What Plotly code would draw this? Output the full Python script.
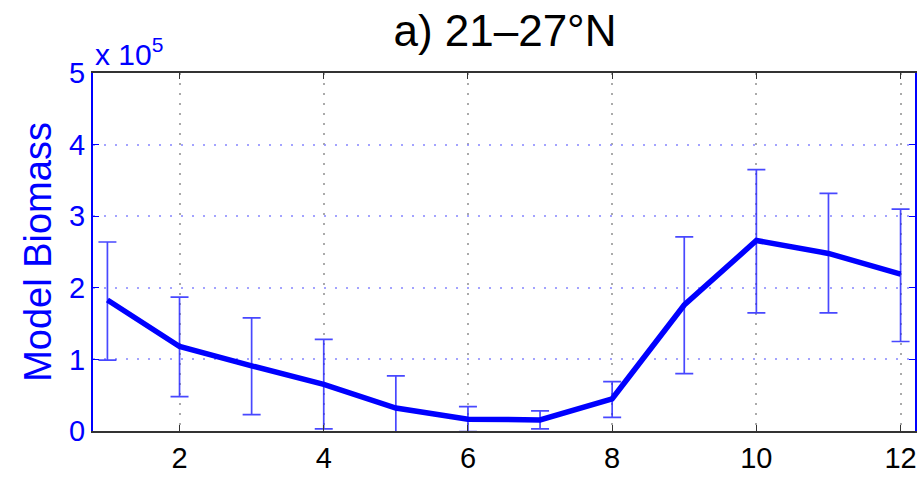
import plotly.graph_objects as go

months = [1, 2, 3, 4, 5, 6, 7, 8, 9, 10, 11, 12]
biomass = [1.83, 1.18, 0.91, 0.65, 0.32, 0.165, 0.155, 0.45, 1.76, 2.66, 2.48, 2.19]
err_upper = [2.64, 1.87, 1.58, 1.28, 0.77, 0.34, 0.28, 0.69, 2.71, 3.65, 3.32, 3.10]
err_lower = [0.99, 0.48, 0.23, 0.03, -0.13, -0.01, 0.03, 0.19, 0.80, 1.65, 1.65, 1.25]
xticks = [2, 4, 6, 8, 10, 12]
yticks = [0, 1, 2, 3, 4, 5]

plus = [u - v for u, v in zip(err_upper, biomass)]
minus = [v - l for v, l in zip(biomass, err_lower)]

FONT = "Liberation Sans, Arial, Helvetica, sans-serif"
BLUE = "#0000FF"

fig = go.Figure()
fig.add_trace(go.Scatter(
    x=months, y=biomass, mode="lines",
    line=dict(color=BLUE, width=5.5),
    error_y=dict(type="data", symmetric=False, array=plus, arrayminus=minus,
                 color="rgba(40,40,255,0.85)", thickness=1.7, width=9),
    showlegend=False, cliponaxis=True,
))

fig.update_layout(
    width=924, height=481,
    margin=dict(l=93, r=7, t=73, b=45),
    paper_bgcolor="white", plot_bgcolor="white",
    font=dict(family=FONT),
    title=dict(text="a) 21\u201327\u00b0N", x=0.5465, xanchor="center", y=0.936, yanchor="middle",
               font=dict(size=44, color="black", family=FONT)),
    xaxis=dict(range=[0.8, 12.2], tickvals=xticks, ticks="inside", ticklen=6,
               tickcolor="#333333", showline=True, linecolor="#333333", linewidth=2,
               mirror="ticks", showgrid=True, gridcolor="#aaaaaa", griddash="2px,8px",
               gridwidth=1.5, zeroline=False,
               tickfont=dict(size=29, color="black", family=FONT)),
    yaxis=dict(range=[0, 5], tickvals=yticks, ticks="inside", ticklen=6,
               tickcolor=BLUE, showline=True, linecolor=BLUE, linewidth=2,
               mirror="ticks", showgrid=True, gridcolor="rgba(140,140,255,0.8)",
               griddash="2px,9px", gridwidth=1.5, zeroline=False,
               tickfont=dict(size=29, color=BLUE, family=FONT),
               title=dict(text="Model Biomass", font=dict(size=38, color=BLUE, family=FONT),
                          standoff=6)),
    annotations=[dict(text="x 10<sup>5</sup>", xref="paper", yref="paper", x=0.0, y=1.0,
                      xanchor="left", yanchor="bottom", showarrow=False,
                      font=dict(size=30, color=BLUE, family=FONT))],
)

fig.write_html("out.html")
